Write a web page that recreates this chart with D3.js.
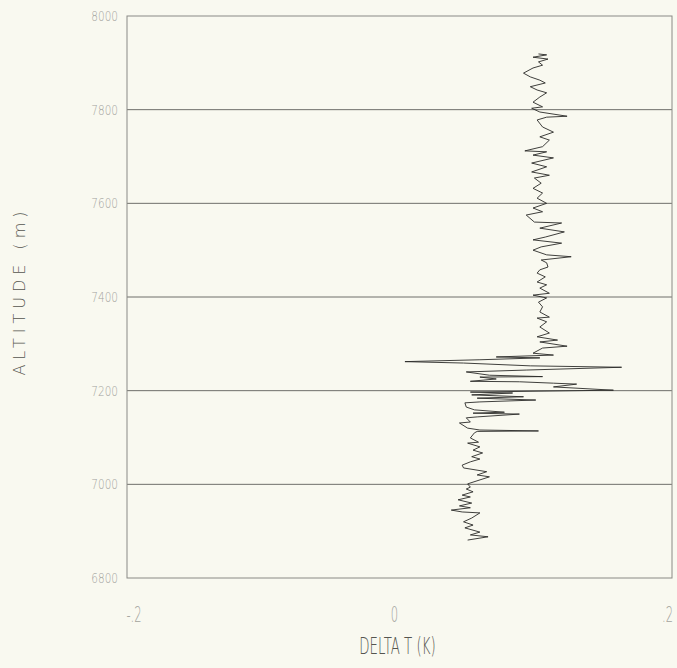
<!DOCTYPE html>
<html>
<head>
<meta charset="utf-8">
<script src="https://cdn.jsdelivr.net/npm/d3@7"></script>
<style>
  html, body { margin: 0; padding: 0; background: #f9f9f0; }
</style>
</head>
<body>
<div id="chart"></div>
<script>
// Profile, bottom to top
const altitude = [
  6881, 6888, 6892, 6898, 6907, 6913, 6920, 6928, 6939, 6941, 6945, 6950, 6954, 6960, 6967, 6973,
  6977, 6984, 6990, 6994, 7001, 7016, 7020, 7027, 7035, 7041, 7048, 7054, 7059, 7067, 7073, 7080,
  7088, 7090, 7099, 7110, 7113, 7114, 7116, 7120, 7131, 7133, 7142, 7144, 7150, 7152, 7154, 7159,
  7165, 7174, 7176, 7180, 7184, 7187, 7191, 7195, 7197, 7201, 7208, 7214, 7216, 7219, 7220, 7225,
  7229, 7230, 7233, 7240, 7244, 7250, 7253, 7259, 7262, 7266, 7270, 7272, 7276, 7280, 7291, 7295,
  7304, 7308, 7315, 7323, 7336, 7347, 7355, 7357, 7368, 7379, 7389, 7398, 7404, 7408, 7419, 7426,
  7432, 7443, 7451, 7458, 7464, 7473, 7479, 7486, 7490, 7500, 7507, 7515, 7522, 7528, 7539, 7547,
  7558, 7560, 7575, 7582, 7590, 7600, 7611, 7622, 7632, 7643, 7654, 7660, 7667, 7678, 7686, 7697,
  7703, 7710, 7712, 7721, 7735, 7742, 7752, 7763, 7778, 7784, 7786, 7795, 7803, 7806, 7816, 7827,
  7836, 7842, 7849, 7857, 7863, 7870, 7878, 7889, 7895, 7902, 7908, 7912, 7917, 7919
];
const deltaT = [
  0.050, 0.065, 0.052, 0.059, 0.048, 0.054, 0.047, 0.053, 0.059, 0.046, 0.038, 0.052, 0.044, 0.053, 0.043, 0.052,
  0.046, 0.054, 0.049, 0.052, 0.050, 0.066, 0.057, 0.064, 0.047, 0.046, 0.052, 0.059, 0.053, 0.061, 0.054, 0.059,
  0.050, 0.058, 0.052, 0.055, 0.057, 0.102, 0.059, 0.050, 0.044, 0.052, 0.049, 0.057, 0.088, 0.054, 0.077, 0.055,
  0.049, 0.048, 0.059, 0.100, 0.057, 0.091, 0.053, 0.083, 0.052, 0.157, 0.113, 0.130, 0.113, 0.088, 0.052, 0.071,
  0.059, 0.105, 0.066, 0.049, 0.093, 0.163, 0.096, 0.047, 0.004, 0.059, 0.103, 0.071, 0.113, 0.098, 0.105, 0.123,
  0.103, 0.116, 0.101, 0.110, 0.103, 0.108, 0.101, 0.110, 0.103, 0.105, 0.102, 0.108, 0.098, 0.110, 0.103, 0.108,
  0.101, 0.107, 0.101, 0.103, 0.109, 0.108, 0.104, 0.126, 0.108, 0.098, 0.104, 0.119, 0.098, 0.107, 0.121, 0.103,
  0.119, 0.099, 0.093, 0.105, 0.098, 0.108, 0.101, 0.105, 0.098, 0.104, 0.099, 0.110, 0.097, 0.108, 0.097, 0.113,
  0.098, 0.108, 0.092, 0.105, 0.110, 0.103, 0.113, 0.105, 0.101, 0.108, 0.123, 0.103, 0.097, 0.105, 0.098, 0.103,
  0.108, 0.101, 0.096, 0.107, 0.103, 0.096, 0.091, 0.098, 0.105, 0.102, 0.109, 0.098, 0.108, 0.102
];
const xTicks = [-0.2, 0, 0.2];
const xTickLabels = ["-.2", "0", ".2"];
const yTicks = [6800, 7000, 7200, 7400, 7600, 7800, 8000];

const width = 677;
const height = 668;
const margin = { top: 16, right: 5, bottom: 90, left: 127 };

const x = d3.scaleLinear().domain([-0.2, 0.2]).range([margin.left, width - margin.right]);
const y = d3.scaleLinear().domain([6800, 8000]).range([height - margin.bottom, margin.top]);

const svg = d3.select("#chart").append("svg")
  .attr("width", width)
  .attr("height", height)
  .attr("viewBox", [0, 0, width, height])
  .style("display", "block")
  .style("background", "#f9f9f0");

// horizontal grid lines
svg.append("g")
  .selectAll("line")
  .data(yTicks.filter(d => d > 6800 && d < 8000))
  .join("line")
  .attr("x1", x(-0.2))
  .attr("x2", x(0.2))
  .attr("y1", d => y(d))
  .attr("y2", d => y(d))
  .attr("stroke", "#6f6f6a")
  .attr("stroke-width", 1);

// frame
svg.append("rect")
  .attr("x", x(-0.2))
  .attr("y", y(8000))
  .attr("width", x(0.2) - x(-0.2))
  .attr("height", y(6800) - y(8000))
  .attr("fill", "none")
  .attr("stroke", "#8a8a85")
  .attr("stroke-width", 1);

// y tick labels (narrow, faded)
const yLabelX = x(-0.2) - 9;
svg.append("g")
  .selectAll("text")
  .data(yTicks)
  .join("text")
  .attr("transform", d => `translate(${yLabelX},${y(d) + 5}) scale(0.75,1)`)
  .attr("text-anchor", "end")
  .attr("font-family", "DejaVu Sans")
  .attr("font-weight", 200)
  .attr("font-size", 14)
  .attr("fill", "#a3a39d")
  .text(d => d);

// x tick labels
svg.append("g")
  .selectAll("text")
  .data(xTicks)
  .join("text")
  .attr("transform", d => `translate(${x(d) + (d < 0 ? 7 : d > 0 ? 1 : -5)},${y(6800) + 44}) scale(0.55,1)`)
  .attr("text-anchor", d => d > 0 ? "end" : "middle")
  .attr("font-family", "DejaVu Sans")
  .attr("font-weight", 200)
  .attr("font-size", 21)
  .attr("fill", "#a3a39d")
  .text((d, i) => xTickLabels[i]);

// axis titles
svg.append("text")
  .attr("transform", `translate(${x(0) - 2},${y(6800) + 76}) scale(0.58,1)`)
  .attr("text-anchor", "middle")
  .attr("font-family", "DejaVu Sans")
  .attr("font-weight", 200)
  .attr("font-size", 23)
  .attr("fill", "#55554f")
  .text("DELTA T (K)");

svg.append("text")
  .attr("transform", `translate(25,${(y(8000) + y(6800)) / 2 - 6}) rotate(-90)`)
  .attr("text-anchor", "middle")
  .attr("font-family", "DejaVu Sans")
  .attr("font-weight", 200)
  .attr("font-size", 16)
  .attr("letter-spacing", 5)
  .attr("fill", "#55554f")
  .text("ALTITUDE (m)");

// profile trace
const points = altitude.map((a, i) => [deltaT[i], a]);
const line = d3.line()
  .x(d => x(d[0]))
  .y(d => y(d[1]));

svg.append("path")
  .datum(points)
  .attr("fill", "none")
  .attr("stroke", "#2a2a28")
  .attr("stroke-width", 0.9)
  .attr("stroke-linejoin", "round")
  .attr("d", line);
</script>
</body>
</html>
